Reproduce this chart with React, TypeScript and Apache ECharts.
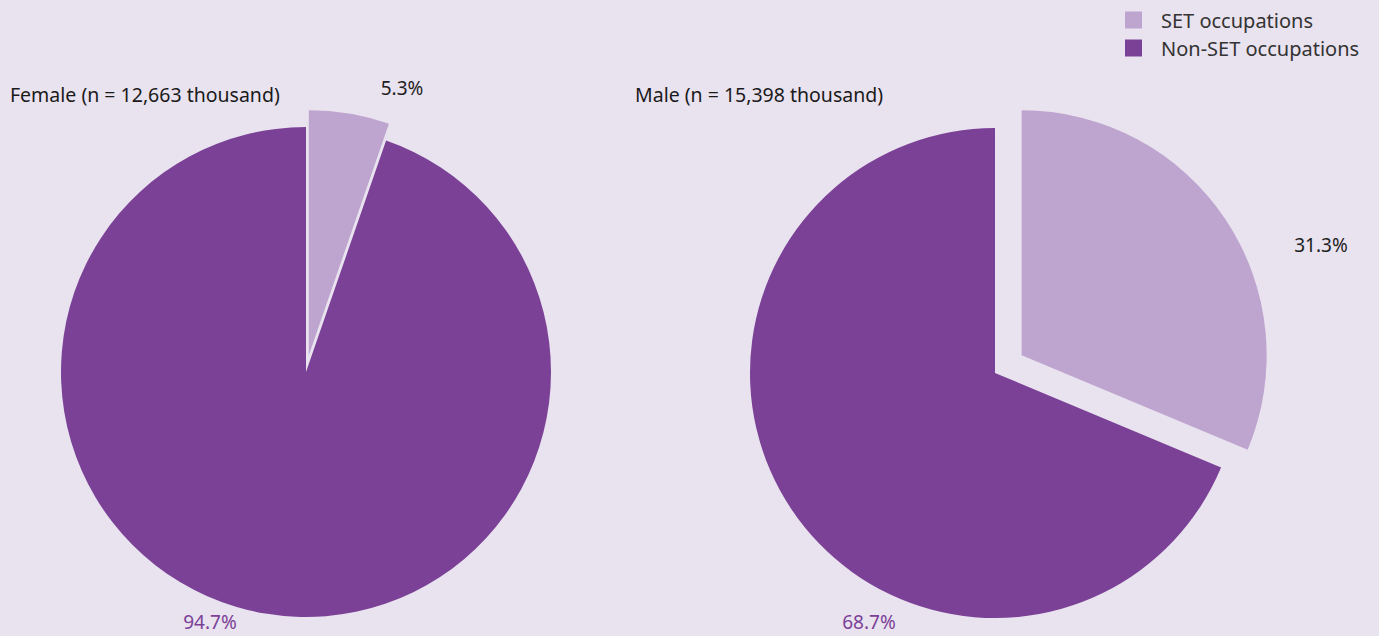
import React, { useEffect, useRef } from "react";
import * as echarts from "echarts";

// ---- data ----
const categories = ["SET occupations", "Non-SET occupations"];
const panelTitles = ["Female (n = 12,663 thousand)", "Male (n = 15,398 thousand)"];
const femaleShares = [5.3, 94.7];
const maleShares = [31.3, 68.7];

// ---- styling / layout (not data) ----
const COLORS = ["#bea5cf", "#7b4197"];
const LABEL_COLORS = ["#1e1e1e", "#7b4197"];
const BG = "#e9e2ef";
const FONT = "'Noto Sans', 'Open Sans', sans-serif";
const PIE_LAYOUT = [
  { center: [306, 372], radius: 245, offset: 17, labels: [[402, 88], [210, 622]], titleLeft: 10 },
  { center: [995, 373], radius: 245, offset: 32, labels: [[1321, 245], [869, 622]], titleLeft: 635 },
];

export default function App() {
  const ref = useRef<HTMLDivElement>(null);
  useEffect(() => {
    if (!ref.current) return;
    const chart = echarts.init(ref.current, null, { renderer: "svg" });
    const shares = [femaleShares, maleShares];
    const series = shares.map((vals, si) => {
      const lay = PIE_LAYOUT[si];
      return {
        type: "pie",
        name: panelTitles[si],
        center: lay.center,
        radius: lay.radius,
        startAngle: 90,
        clockwise: true,
        selectedMode: "multiple",
        selectedOffset: lay.offset,
        silent: true,
        emphasis: { disabled: true },
        labelLine: { show: false },
        label: { show: false },
        data: vals.map((v, i) => ({
          name: categories[i],
          value: v,
          selected: i === 0,
          itemStyle: { color: COLORS[i] },
        })),
      };
    });
    const labelTexts = shares.flatMap((vals, si) =>
      vals.map((v, i) => {
        const pos = PIE_LAYOUT[si].labels[i];
        return {
          type: "text",
          x: pos[0],
          y: pos[1],
          silent: true,
          style: {
            text: `${v.toFixed(1)}%`,
            fill: LABEL_COLORS[i],
            fontFamily: FONT,
            fontSize: 19,
            align: "center",
            verticalAlign: "middle",
            textAlign: "center",
            textVerticalAlign: "middle",
          },
        };
      })
    );
    chart.setOption({
      animation: false,
      backgroundColor: BG,
      title: panelTitles.map((t, i) => ({
        text: t,
        left: PIE_LAYOUT[i].titleLeft,
        top: 82,
        padding: 0,
        textStyle: {
          fontFamily: FONT,
          fontSize: 19.5,
          fontWeight: "normal",
          color: "#1a1a1a",
          lineHeight: 24,
        },
      })),
      legend: {
        orient: "vertical",
        left: 1125,
        top: 10,
        padding: 0,
        itemWidth: 17,
        itemHeight: 17,
        itemGap: 8,
        icon: "rect",
        selectedMode: false,
        data: categories,
        textStyle: {
          fontFamily: FONT,
          fontSize: 20,
          color: "#333333",
          padding: [0, 0, 0, 14],
        },
      },
      graphic: labelTexts,
      series,
    });
    return () => chart.dispose();
  }, []);
  return (
    <div
      ref={ref}
      style={{ position: "fixed", left: 0, top: 0, width: 1379, height: 636 }}
    />
  );
}
